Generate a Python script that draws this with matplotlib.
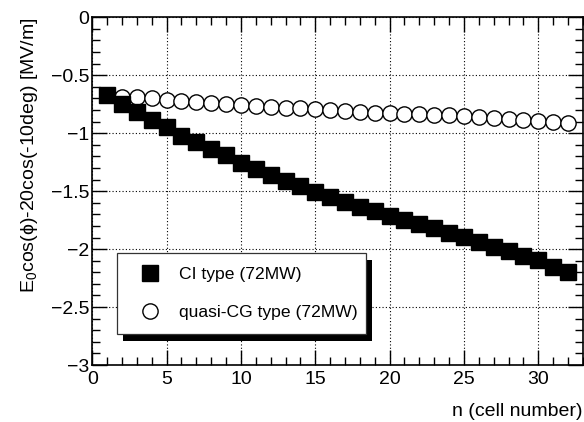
import matplotlib
matplotlib.use("Agg")
import matplotlib.pyplot as plt
from matplotlib.patches import Rectangle
from matplotlib.lines import Line2D
from matplotlib.ticker import MultipleLocator
from matplotlib.transforms import IdentityTransform

plt.rcParams['font.family'] = ['Liberation Sans', 'DejaVu Sans']
plt.rcParams['mathtext.fontset'] = 'custom'
plt.rcParams['mathtext.rm'] = 'Liberation Sans'
plt.rcParams['mathtext.it'] = 'Liberation Sans:italic'

# cell number
cells = list(range(1, 33))
# CI type (72MW)
ci_type = [-0.667, -0.747, -0.82, -0.89, -0.95, -1.02, -1.08, -1.14,
           -1.19, -1.253, -1.305, -1.36, -1.41, -1.455, -1.506, -1.55,
           -1.59, -1.635, -1.67, -1.71, -1.745, -1.78, -1.82, -1.857,
           -1.897, -1.937, -1.978, -2.02, -2.058, -2.098, -2.158, -2.2]
# quasi-CG type (72MW)
qcg_type = [-0.67, -0.684, -0.69, -0.70, -0.71, -0.72, -0.73, -0.74,
            -0.75, -0.76, -0.765, -0.77, -0.78, -0.785, -0.79, -0.799,
            -0.805, -0.814, -0.822, -0.828, -0.834, -0.836, -0.842, -0.842,
            -0.851, -0.857, -0.865, -0.877, -0.885, -0.894, -0.90, -0.908]

fig = plt.figure(figsize=(5.84, 4.22), dpi=100)
ax = fig.add_axes([0.158, 0.135, 0.840, 0.824])

ax.plot(cells, qcg_type, 'o', ms=11, mfc='white', mec='black', mew=1.0, zorder=3)
ax.plot(cells, ci_type, 's', ms=11, color='black', zorder=4)

ax.set_xlim(0, 33)
ax.set_ylim(-3, 0)
ax.xaxis.set_major_locator(MultipleLocator(5))
ax.xaxis.set_minor_locator(MultipleLocator(1))
ax.yaxis.set_major_locator(MultipleLocator(0.5))
ax.yaxis.set_minor_locator(MultipleLocator(0.1))
ax.yaxis.set_major_formatter(matplotlib.ticker.FuncFormatter(
    lambda v, p: ('%g' % v).replace('-', '\u2212')))

ax.tick_params(which='both', direction='in', top=True, right=True, labelsize=14)
ax.tick_params(which='major', length=11, width=1)
ax.tick_params(which='minor', length=6, width=1)
ax.tick_params(axis='x', pad=4)
ax.tick_params(axis='y', pad=2)
ax.grid(True, which='major', linestyle=(0, (1, 2)), color='black', linewidth=0.8)
for s in ax.spines.values():
    s.set_linewidth(1.2)

ax.set_xlabel('n (cell number)', fontsize=14, loc='right', labelpad=11)
ax.set_ylabel('E$_{0}$cos(\u03d5)-20cos(-10deg) [MV/m]', fontsize=14,
              loc='top', labelpad=8)

handles = [
    Line2D([], [], marker='s', ls='none', ms=11, color='black'),
    Line2D([], [], marker='o', ls='none', ms=11, mfc='white', mec='black'),
]
leg = ax.legend(handles, ['CI type (72MW)', 'quasi-CG type (72MW)'],
                loc='lower left', bbox_to_anchor=(0.05, 0.089, 0.508, 0.24),
                mode='expand', fontsize=12.6, frameon=True, fancybox=False,
                edgecolor='#333333', framealpha=1, borderpad=0.8,
                labelspacing=1.3, handlelength=2.2, handletextpad=0.55,
                borderaxespad=0)
leg.get_frame().set_linewidth(0.9)
leg.set_zorder(6)

fig.canvas.draw()
bb = leg.get_frame().get_window_extent(fig.canvas.get_renderer())
shadow = Rectangle((bb.x0 + 6, bb.y0 - 7), bb.width, bb.height,
                   transform=IdentityTransform(), facecolor='black',
                   edgecolor='none', zorder=5.5, clip_on=False)
ax.add_artist(shadow)

fig.savefig('out.png', dpi=100)
